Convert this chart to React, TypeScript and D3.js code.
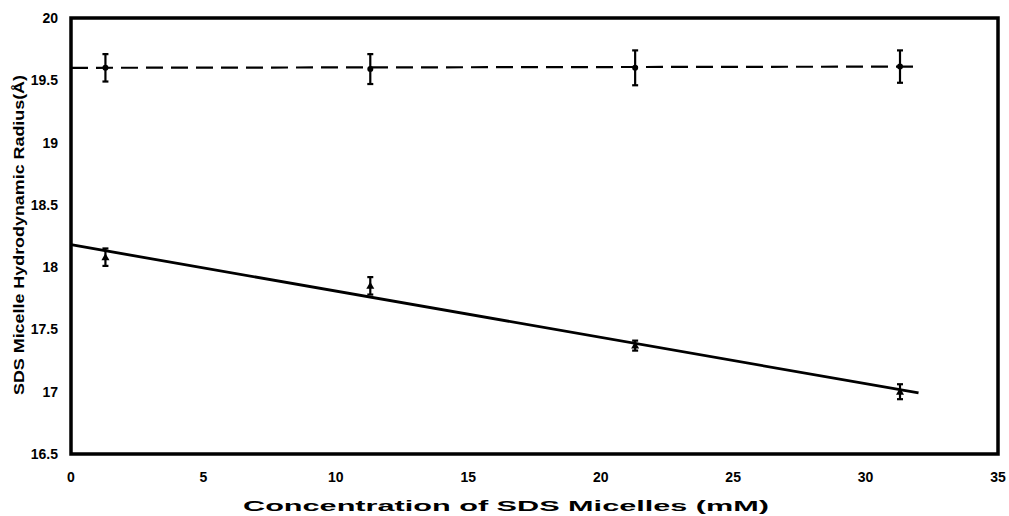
import React from 'react';
import * as d3 from 'd3';

const conc = [1.3, 11.3, 21.3, 31.3];
const upperVals = [19.6, 19.59, 19.6, 19.61];
const upperErr = [0.11, 0.12, 0.14, 0.13];
const lowerVals = [18.08, 17.85, 17.37, 17.0];
const lowerErr = [0.07, 0.07, 0.04, 0.06];
const upperFit = [[0, 19.6], [32, 19.61]];
const lowerFit = [[0, 18.18], [32, 16.99]];
const xTicks = [0, 5, 10, 15, 20, 25, 30, 35];
const yTicks = [16.5, 17, 17.5, 18, 18.5, 19, 19.5, 20];

const W = 1009;
const H = 516;
const margin = { top: 18, right: 11, bottom: 62, left: 71 };

const App = () => {
    const x = d3.scaleLinear().domain([0, 35]).range([margin.left, W - margin.right]);
    const y = d3.scaleLinear().domain([16.5, 20]).range([H - margin.bottom, margin.top]);
    const line = d3.line<number[]>().x(d => x(d[0])).y(d => y(d[1]));
    const font = 'Arial, "Liberation Sans", Helvetica, sans-serif';

    const errBar = (cx: number, v: number, e: number, key: string) => (
        <g key={key} stroke="black" strokeWidth={2.2}>
            <line x1={x(cx)} x2={x(cx)} y1={y(v + e)} y2={y(v - e)} />
            <line x1={x(cx) - 3} x2={x(cx) + 3} y1={y(v + e)} y2={y(v + e)} />
            <line x1={x(cx) - 3} x2={x(cx) + 3} y1={y(v - e)} y2={y(v - e)} />
        </g>
    );

    return (
        <svg width={W} height={H} style={{ position: 'absolute', left: 0, top: 0 }} fontFamily={font}>
            <rect x={0} y={0} width={W} height={H} fill="white" />
            {/* fits */}
            <path d={line(upperFit) || ''} fill="none" stroke="black" strokeWidth={2.2} strokeDasharray="17 8" />
            <path d={line(lowerFit) || ''} fill="none" stroke="black" strokeWidth={2.8} />
            {/* upper series */}
            {conc.map((c, i) => errBar(c, upperVals[i], upperErr[i], 'ue' + i))}
            {conc.map((c, i) => (
                <circle key={'uc' + i} cx={x(c)} cy={y(upperVals[i])} r={3} fill="black" />
            ))}
            {/* lower series */}
            {conc.map((c, i) => errBar(c, lowerVals[i], lowerErr[i], 'le' + i))}
            {conc.map((c, i) => {
                const px = x(c), py = y(lowerVals[i]);
                return <path key={'lt' + i} d={`M${px},${py - 4}L${px + 4},${py + 3}L${px - 4},${py + 3}Z`} fill="black" />;
            })}
            {/* frame */}
            <rect x={margin.left} y={margin.top} width={W - margin.left - margin.right} height={H - margin.top - margin.bottom}
                fill="none" stroke="black" strokeWidth={3.5} />
            {/* ticks */}
            {xTicks.map(t => (
                <text key={'xt' + t} x={x(t)} y={482} textAnchor="middle" fontSize={14} fontWeight="bold">{t}</text>
            ))}
            {yTicks.map(t => (
                <text key={'yt' + t} x={58} y={y(t) + 5} textAnchor="end" fontSize={14} fontWeight="bold">{t}</text>
            ))}
            <text x={506} y={511} textAnchor="middle" fontSize={15} fontWeight="bold"
                textLength={526} lengthAdjust="spacingAndGlyphs">
                Concentration of SDS Micelles (mM)
            </text>
            <text transform={`translate(24,235) rotate(-90)`} textAnchor="middle"
                fontSize={15} fontWeight="bold" textLength={320} lengthAdjust="spacingAndGlyphs">
                SDS Micelle Hydrodynamic Radius(Å)
            </text>
        </svg>
    );
};

export default App;
